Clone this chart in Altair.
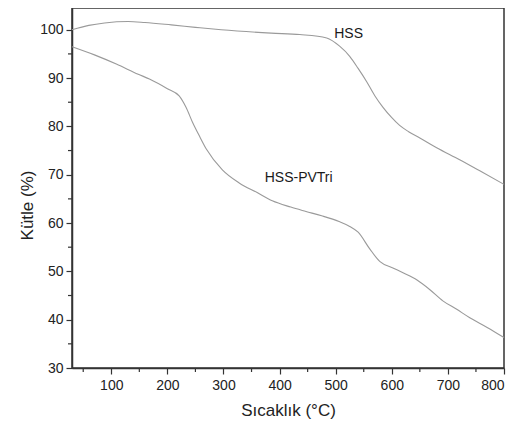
import altair as alt
import pandas as pd

hss_temp = [30, 60, 88, 130, 160, 207, 250, 296, 385, 436, 484, 507, 525, 540, 555, 570, 584, 600, 614, 630, 650, 680, 721, 760, 800]
hss_mass = [100.0, 100.9, 101.4, 101.7, 101.5, 101.0, 100.5, 100.0, 99.3, 99.0, 98.3, 96.6, 94.5, 92.0, 89.3, 86.3, 84.0, 81.8, 80.2, 78.9, 77.6, 75.6, 73.1, 70.6, 68.0]

pvtri_temp = [30, 70, 109, 148, 168, 200, 221, 233, 245, 258, 270, 298, 328, 360, 387, 420, 447, 475, 506, 525, 540, 561, 579, 602, 620, 645, 668, 691, 715, 739, 770, 800]
pvtri_mass = [96.5, 94.8, 92.9, 90.8, 89.8, 87.8, 86.3, 84.0, 80.8, 77.8, 75.2, 71.0, 68.3, 66.3, 64.6, 63.3, 62.4, 61.5, 60.3, 59.3, 58.1, 54.6, 52.0, 50.7, 49.7, 48.2, 46.2, 43.9, 42.2, 40.4, 38.4, 36.3]

label_text = ["HSS", "HSS-PVTri"]
label_x = [523, 434]
label_y = [99.2, 69.3]

x_major = [100, 200, 300, 400, 500, 600, 700, 800]
x_minor = [50, 150, 250, 350, 450, 550, 650, 750]
y_major = [30, 40, 50, 60, 70, 80, 90, 100]
y_minor = [35, 45, 55, 65, 75, 85, 95]

df = pd.concat([
    pd.DataFrame({"temp": hss_temp, "mass": hss_mass, "series": "HSS"}),
    pd.DataFrame({"temp": pvtri_temp, "mass": pvtri_mass, "series": "HSS-PVTri"}),
])
labels = pd.DataFrame({"temp": label_x, "mass": label_y, "text": label_text})
xminor_df = pd.DataFrame({"temp": x_minor})
yminor_df = pd.DataFrame({"mass": y_minor})

FONT = "Liberation Sans"
H = 360
xs = alt.Scale(domain=[30, 800], nice=False, zero=False)
ys = alt.Scale(domain=[30, 104.5], nice=False, zero=False)

lines = alt.Chart(df).mark_line(color="#9a9a9a", strokeWidth=1.1, interpolate="monotone").encode(
    x=alt.X("temp:Q", scale=xs, axis=alt.Axis(
        orient="bottom", values=x_major, tickSize=6, grid=False,
        title="Sıcaklık (°C)", titleY=42, titleBaseline="middle",
        labelPadding=4, format="d")),
    y=alt.Y("mass:Q", scale=ys, axis=alt.Axis(
        orient="left", values=y_major, tickSize=6, grid=False,
        title="Kütle (%)", titleX=-45, titleY=197, titleBaseline="middle",
        titleAlign="center", labelPadding=3, format="d")),
    detail="series:N",
)

xminor = alt.Chart(xminor_df).mark_rule(color="#333333", strokeWidth=1.2).encode(
    x=alt.X("temp:Q", scale=xs),
    y=alt.value(H),
    y2=alt.value(H + 4),
)

yminor = alt.Chart(yminor_df).mark_rule(color="#333333", strokeWidth=1.2).encode(
    y=alt.Y("mass:Q", scale=ys),
    x=alt.value(-4),
    x2=alt.value(0),
)

text = alt.Chart(labels).mark_text(font=FONT, fontSize=14, color="#1a1a1a").encode(
    x=alt.X("temp:Q", scale=xs),
    y=alt.Y("mass:Q", scale=ys),
    text="text:N",
)

chart = alt.layer(lines, xminor, yminor, text).properties(
    width=432, height=H,
    autosize=alt.AutoSizeParams(type="none"),
    padding={"left": 64, "top": 0, "right": 9, "bottom": 56},
).configure_view(
    stroke="#333333", strokeWidth=1.5
).configure_axis(
    domainColor="#333333", domainWidth=1.5, tickColor="#333333", tickWidth=1.2,
    labelFont=FONT, labelFontSize=14, labelColor="#222222",
    titleFont=FONT, titleFontSize=17, titleFontWeight="normal", titleColor="#222222",
)

chart.save("out.html", embed_options={"renderer": "svg", "actions": False})
